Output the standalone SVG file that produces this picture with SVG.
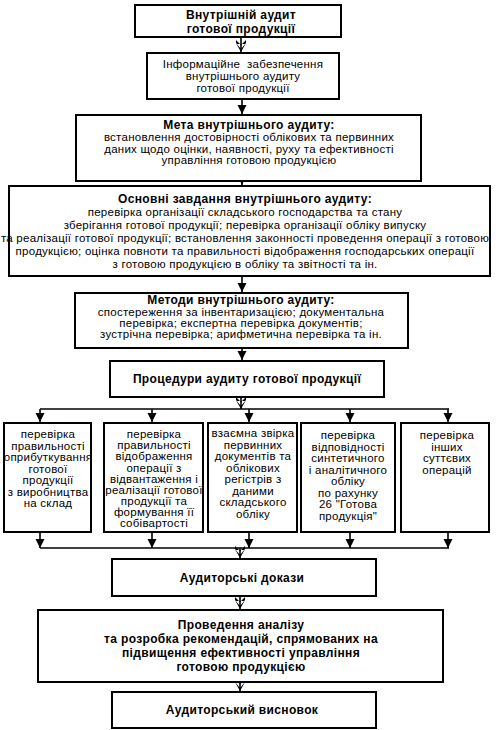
<svg xmlns="http://www.w3.org/2000/svg" width="498" height="730" viewBox="0 0 498 730">
<style>
.box{fill:#fff;stroke:#000;stroke-width:2}
.t{font-family:"Liberation Sans",Arial,sans-serif;font-size:11.5px;letter-spacing:0.25px;fill:#000;text-anchor:middle}
.b{font-weight:bold;font-size:12px;letter-spacing:0.35px}
.c{fill:none;stroke:#000;stroke-width:1.6}
</style>
<defs>
<marker id="ah" markerUnits="userSpaceOnUse" markerWidth="11" markerHeight="12" viewBox="-10 -6 11 12" refX="0" refY="0" orient="auto">
<path d="M-9,-4.5 L0,0 L-9,4.5 Z" fill="#000"/>
</marker>
<marker id="dh" markerUnits="userSpaceOnUse" markerWidth="14" markerHeight="12" viewBox="-13 -6 14 12" refX="0" refY="0" orient="auto">
<path d="M-12,-5 L-7,0 L-12,5 L-9,5 L-3,0 L-9,-5 Z M-8,-4.5 L0,0 L-8,4.5 Z" fill="#000"/>
</marker>
</defs>
<g id="connectors">
<line class="c" x1="241" y1="37" x2="241" y2="52" marker-end="url(#dh)"/>
<line class="c" x1="242" y1="99" x2="242" y2="114" marker-end="url(#ah)"/>
<line class="c" x1="242" y1="181" x2="242" y2="185" marker-end="url(#ah)"/>
<line class="c" x1="242" y1="276" x2="242" y2="292" marker-end="url(#ah)"/>
<line class="c" x1="242" y1="348" x2="242" y2="360" marker-end="url(#ah)"/>
<line class="c" x1="241" y1="397" x2="241" y2="409" marker-end="url(#dh)"/>
<line class="c" x1="40" y1="409" x2="449" y2="409"/>
<line class="c" x1="40" y1="409" x2="40" y2="422" marker-end="url(#ah)"/>
<line class="c" x1="152" y1="409" x2="152" y2="422" marker-end="url(#ah)"/>
<line class="c" x1="249" y1="409" x2="249" y2="422" marker-end="url(#ah)"/>
<line class="c" x1="350" y1="409" x2="350" y2="422" marker-end="url(#ah)"/>
<line class="c" x1="448" y1="409" x2="448" y2="422" marker-end="url(#ah)"/>
<line class="c" x1="40" y1="548" x2="449" y2="548"/>
<line class="c" x1="40" y1="532" x2="40" y2="548" marker-end="url(#ah)"/>
<line class="c" x1="152" y1="532" x2="152" y2="548" marker-end="url(#ah)"/>
<line class="c" x1="249" y1="532" x2="249" y2="548" marker-end="url(#ah)"/>
<line class="c" x1="350" y1="532" x2="350" y2="548" marker-end="url(#ah)"/>
<line class="c" x1="448" y1="532" x2="448" y2="548" marker-end="url(#ah)"/>
<line class="c" x1="240" y1="548" x2="240" y2="558" marker-end="url(#dh)"/>
<line class="c" x1="240" y1="596" x2="240" y2="609" marker-end="url(#dh)"/>
<line class="c" x1="240" y1="682" x2="240" y2="691" marker-end="url(#dh)"/>
</g>
<g id="n1">
<rect class="box" x="135" y="5" width="206" height="32"/>
<text class="t b" x="241" y="19">Внутрішній аудит</text>
<text class="t b" x="241" y="32.5">готової продукції</text>
</g>
<g id="n2">
<rect class="box" x="147" y="53" width="192" height="46"/>
<text class="t" x="243" y="68" xml:space="preserve">Інформаційне  забезпечення</text>
<text class="t" x="243" y="80">внутрішнього аудиту</text>
<text class="t" x="243" y="91.5">готової продукції</text>
</g>
<g id="n3">
<rect class="box" x="76" y="115" width="345" height="66"/>
<text class="t b" x="249" y="129">Мета внутрішнього аудиту:</text>
<text class="t" x="249" y="141">встановлення достовірності облікових та первинних</text>
<text class="t" x="249" y="152.5">даних щодо оцінки, наявності, руху та ефективності</text>
<text class="t" x="249" y="164">управління готовою продукцією</text>
</g>
<g id="n4">
<rect class="box" x="9" y="186" width="481" height="90"/>
<text class="t b" x="245" y="203">Основні завдання внутрішнього аудиту:</text>
<text class="t" x="245" y="215.5">перевірка організації складського господарства та стану</text>
<text class="t" x="245" y="228.5">зберігання готової продукції; перевірка організації обліку випуску</text>
<text class="t" x="245" y="242">та реалізації готової продукції; встановлення законності проведення операції з готовою</text>
<text class="t" x="245" y="255">продукцією; оцінка повноти та правильності відображення господарських операції</text>
<text class="t" x="245" y="268">з готовою продукцією в обліку та звітності та ін.</text>
</g>
<g id="n5">
<rect class="box" x="75" y="293" width="333" height="55"/>
<text class="t b" x="241" y="304">Методи внутрішнього аудиту:</text>
<text class="t" x="241" y="315.5">спостереження за інвентаризацією; документальна</text>
<text class="t" x="241" y="326.5">перевірка; експертна перевірка документів;</text>
<text class="t" x="241" y="337.5">зустрічна перевірка; арифметична перевірка та ін.</text>
</g>
<g id="n6">
<rect class="box" x="110" y="361" width="274" height="36"/>
<text class="t b" x="247" y="383">Процедури аудиту готової продукції</text>
</g>
<g id="n7">
<rect class="box" x="4" y="423" width="87" height="109"/>
<text class="t" x="48" y="438">перевірка</text>
<text class="t" x="48" y="449.5">правильності</text>
<text class="t" x="48" y="461">оприбуткування</text>
<text class="t" x="48" y="472.5">готової</text>
<text class="t" x="48" y="484">продукції</text>
<text class="t" x="48" y="495.5">з виробництва</text>
<text class="t" x="48" y="507">на склад</text>
</g>
<g id="n8">
<rect class="box" x="104" y="423" width="99" height="109"/>
<text class="t" x="154" y="438">перевірка</text>
<text class="t" x="154" y="449">правильності</text>
<text class="t" x="154" y="460">відображення</text>
<text class="t" x="154" y="471.5">операції з</text>
<text class="t" x="154" y="482.5">відвантаження і</text>
<text class="t" x="154" y="493.5">реалізації готової</text>
<text class="t" x="154" y="504.5">продукції та</text>
<text class="t" x="154" y="516">формування її</text>
<text class="t" x="154" y="527">собівартості</text>
</g>
<g id="n9">
<rect class="box" x="208" y="423" width="89" height="109"/>
<text class="t" x="253" y="437">взаємна звірка</text>
<text class="t" x="253" y="448.5">первинних</text>
<text class="t" x="253" y="460">документів та</text>
<text class="t" x="253" y="471.5">облікових</text>
<text class="t" x="253" y="483">регістрів з</text>
<text class="t" x="253" y="494.5">даними</text>
<text class="t" x="253" y="506">складського</text>
<text class="t" x="253" y="517.5">обліку</text>
</g>
<g id="n10">
<rect class="box" x="301" y="423" width="94" height="109"/>
<text class="t" x="348" y="439">перевірка</text>
<text class="t" x="348" y="450.5">відповідності</text>
<text class="t" x="348" y="462">синтетичного</text>
<text class="t" x="348" y="473.5">і аналітичного</text>
<text class="t" x="348" y="485">обліку</text>
<text class="t" x="348" y="496.5">по рахунку</text>
<text class="t" x="348" y="508">26 "Готова</text>
<text class="t" x="348" y="519.5">продукція"</text>
</g>
<g id="n11">
<rect class="box" x="401" y="423" width="88" height="109"/>
<text class="t" x="447" y="439">перевірка</text>
<text class="t" x="447" y="450.5">інших</text>
<text class="t" x="447" y="462">суттєвих</text>
<text class="t" x="447" y="473.5">операцій</text>
</g>
<g id="n12">
<rect class="box" x="112" y="559" width="264" height="37"/>
<text class="t b" x="242" y="582">Аудиторські докази</text>
</g>
<g id="n13">
<rect class="box" x="38" y="610" width="405" height="72"/>
<text class="t b" x="241" y="629">Проведення аналізу</text>
<text class="t b" x="241" y="643">та розробка рекомендацій, спрямованих на</text>
<text class="t b" x="241" y="657">підвищення ефективності управління</text>
<text class="t b" x="241" y="671">готовою продукцією</text>
</g>
<g id="n14">
<rect class="box" x="112" y="692" width="264" height="36"/>
<text class="t b" x="242" y="714">Аудиторський висновок</text>
</g>
</svg>
